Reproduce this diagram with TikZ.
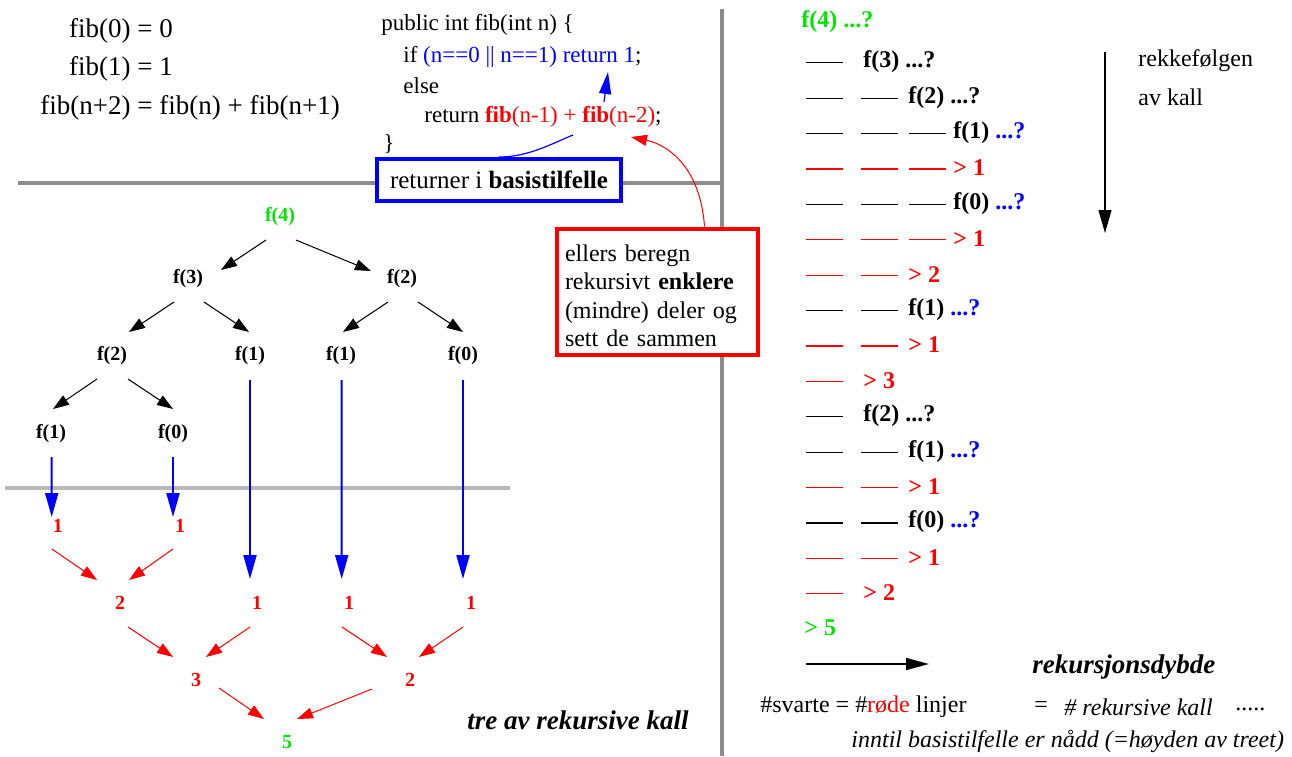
\documentclass[tikz,border=0pt]{standalone}
\usepackage{fontspec}
\setmainfont{Liberation Serif}[
 BoldFont=Liberation Serif Bold,
 ItalicFont=Liberation Serif Italic,
 BoldItalicFont=Liberation Serif Bold Italic]
\usetikzlibrary{arrows.meta,positioning}
\definecolor{callgreen}{RGB}{0,230,0}
\definecolor{retred}{RGB}{255,0,0}
\definecolor{baseblue}{RGB}{0,0,255}
\definecolor{rulegray}{RGB}{140,140,140}
\definecolor{levelgray}{RGB}{185,185,185}
\tikzset{
 treelabel/.style={font=\fontsize{10}{12}\selectfont\bfseries, inner sep=0pt},
 retnum/.style={treelabel, text=retred},
 calllabel/.style={font=\fontsize{12}{14}\selectfont\bfseries, inner sep=0pt, anchor=west},
 plaintext/.style={font=\fontsize{12}{14}\selectfont, inner sep=0pt, anchor=west},
 codeline/.style={font=\fontsize{11.5}{14}\selectfont, inner sep=0pt, anchor=base west},
 callarrow/.style={-{Triangle[length=8pt,width=5.5pt]}, line width=0.5pt},
 retarrow/.style={-{Triangle[length=8pt,width=5.5pt]}, line width=0.5pt, draw=retred},
 basearrow/.style={-{Triangle[length=12pt,width=6.5pt]}, line width=1pt, draw=baseblue},
 calldash/.style={line width=0.6pt},
 infobox/.style={rectangle, fill=white, line width=2pt},
 divider/.style={line width=2.3pt, draw=rulegray}
}

\begin{document}
\begin{tikzpicture}[x=0.5pt, y=-0.5pt]
 \useasboundingbox (0,0) rectangle (1292,756);

 % dividers
 \draw[divider] (722,9) -- (722,756);
 \draw[divider] (18,183) -- (722,183);
 \draw[line width=1.8pt, draw=levelgray] (5,488) -- (510,488);

 % definition and code
 \node[anchor=north west, inner sep=0pt, font=\fontsize{13.5}{19.25}\selectfont] (defs) at (40,10)
 {\begin{tabular}{@{}r@{\ =\ }l@{}} fib(0) & 0\\ fib(1) & 1\\ fib(n+2) & fib(n) + fib(n+1)\end{tabular}};
 \node[codeline] (code1) at (381,30) {public int fib(int n) \{};
 \node[codeline] (code2) at (403,62) {if \textcolor{baseblue}{(n==0 || n==1) return 1};};
 \node[codeline] (code3) at (403,93) {else};
 \node[codeline] (code4) at (424,122) {return \textcolor{retred}{\textbf{fib}(n-1) + \textbf{fib}(n-2)};};
 \node[codeline] (code5) at (383,150) {\}};

 \node[infobox, draw=baseblue, minimum width=122pt, minimum height=21pt, font=\fontsize{12.5}{15}\selectfont] (retbox) at (499,180) {returner i \textbf{basistilfelle}};
 \node[infobox, draw=retred, text width=92.5pt, inner xsep=4pt, minimum height=63pt, align=left, font=\fontsize{12}{14.25}\selectfont] (recbox) at (657.5,291.5)
 {\rule{0pt}{12.5pt}ellers beregn\\ rekursivt \textbf{enklere}\\ (mindre) deler og\\ sett de sammen};

 \coordinate (hideA) at (573,135);
 \coordinate (hideB) at (604,102);
 \coordinate (basetip) at (608,72);
 \coordinate (rectip) at (631,137);
 \draw[baseblue, line width=0.6pt] (retbox.north) .. controls +(30,0) and +(-20,8) .. (hideA);
 \draw[basearrow, line width=0.6pt, -{Triangle[length=11pt,width=6pt]}] (hideB) -- (basetip);
 \draw[retarrow] ([xshift=23.5pt]recbox.north) .. controls +(-4,-58) and +(38,8) .. (rectip);

 % tree of calls
 \node[treelabel, text=callgreen] (f4) at (280,217) {f(4)};
 \node[treelabel] (f3) at (188,279) {f(3)};
 \node[treelabel] (f2r) at (402,279) {f(2)};
 \node[treelabel] (f2l) at (112,356) {f(2)};
 \node[treelabel] (f1a) at (250,356) {f(1)};
 \node[treelabel] (f1b) at (341,356) {f(1)};
 \node[treelabel] (f0a) at (463,356) {f(0)};
 \node[treelabel] (f1c) at (51,434) {f(1)};
 \node[treelabel] (f0b) at (173,434) {f(0)};

 \draw[callarrow] ([shift={(-14,23)}]f4.center) -- ([shift={(33,-9)}]f3.center);
 \draw[callarrow] ([shift={(16,23)}]f4.center) -- ([shift={(-31,-8)}]f2r.center);
 \draw[callarrow] ([shift={(-14,23)}]f3.center) -- ([shift={(17,-24)}]f2l.center);
 \draw[callarrow] ([shift={(16,23)}]f3.center) -- ([shift={(-1,-24)}]f1a.center);
 \draw[callarrow] ([shift={(-14,23)}]f2r.center) -- ([shift={(2,-24)}]f1b.center);
 \draw[callarrow] ([shift={(16,23)}]f2r.center) -- ([shift={(0,-24)}]f0a.center);
 \draw[callarrow] ([shift={(-15,23)}]f2l.center) -- ([shift={(2,-25)}]f1c.center);
 \draw[callarrow] ([shift={(16,23)}]f2l.center) -- ([shift={(0,-25)}]f0b.center);

 % returned values
 \node[retnum] (r1a) at (58,526) {1};
 \node[retnum] (r1b) at (180,526) {1};
 \node[retnum] (r2a) at (120,603) {2};
 \node[retnum] (r1c) at (257,603) {1};
 \node[retnum] (r1d) at (349,603) {1};
 \node[retnum] (r1e) at (471,603) {1};
 \node[retnum] (r3) at (196,680) {3};
 \node[retnum] (r2b) at (410,680) {2};
 \node[treelabel, text=callgreen] (r5) at (287,742) {5};

 \draw[basearrow] ([shift={(0.7,23)}]f1c.center) -- ([shift={(-6.3,-9)}]r1a.center);
 \draw[basearrow] ([shift={(0,23)}]f0b.center) -- ([shift={(-7,-9)}]r1b.center);
 \draw[basearrow] ([shift={(0,24)}]f1a.center) -- ([shift={(-7,-24)}]r1c.center);
 \draw[basearrow] ([shift={(0.7,24)}]f1b.center) -- ([shift={(-7.3,-24)}]r1d.center);
 \draw[basearrow] ([shift={(0,24)}]f0a.center) -- ([shift={(-8,-24)}]r1e.center);

 \draw[retarrow] ([shift={(-6,23)}]r1a.center) -- ([shift={(-23,-23)}]r2a.center);
 \draw[retarrow] ([shift={(-7,23)}]r1b.center) -- ([shift={(9,-23)}]r2a.center);
 \draw[retarrow] ([shift={(8,24)}]r2a.center) -- ([shift={(-23,-23)}]r3.center);
 \draw[retarrow] ([shift={(-7,24)}]r1c.center) -- ([shift={(10,-23)}]r3.center);
 \draw[retarrow] ([shift={(-7,24)}]r1d.center) -- ([shift={(-23,-23)}]r2b.center);
 \draw[retarrow] ([shift={(-8,24)}]r1e.center) -- ([shift={(9,-23)}]r2b.center);
 \draw[retarrow] ([shift={(23,8)}]r3.center) -- ([shift={(-23,-23)}]r5.center);
 \draw[retarrow] ([shift={(-38,9)}]r2b.center) -- ([shift={(10,-23)}]r5.center);

 \node[anchor=west, inner sep=0pt, font=\fontsize{13.5}{16}\selectfont\bfseries\itshape] (treetitle) at (467,720) {tre av rekursive kall};

 % order of calls
 \node[calllabel, text=callgreen] (row0) at (801,22) {f(4) ...?};
 \foreach \k/\dep/\col/\txt in {
 1/1/black/{f(3) ...?},
 2/2/black/{f(2) ...?},
 3/3/black/{f(1) \textcolor{baseblue}{...?}},
 4/3/retred/{> 1},
 5/3/black/{f(0) \textcolor{baseblue}{...?}},
 6/3/retred/{> 1},
 7/2/retred/{> 2},
 8/2/black/{f(1) \textcolor{baseblue}{...?}},
 9/2/retred/{> 1},
 10/1/retred/{> 3},
 11/1/black/{f(2) ...?},
 12/2/black/{f(1) \textcolor{baseblue}{...?}},
 13/2/retred/{> 1},
 14/2/black/{f(0) \textcolor{baseblue}{...?}},
 15/2/retred/{> 1},
 16/1/retred/{> 2}}{
 \pgfmathsetmacro\rowy{26.3+35.4*\k}
 \node[calllabel, text=\col] (row\k) at (818+45*\dep,\rowy) {\txt};
 \foreach \j/\xa in {1/806,2/861,3/909}{
 \ifnum\j>\dep\relax\else
 \draw[calldash, draw=\col] (\xa,\rowy+1) -- ++(37,0);
 \fi
 }
 }
 \node[calllabel, text=callgreen] (row17) at (804,628) {> 5};

 \coordinate (ordtop) at (1105,52);
 \coordinate (ordbot) at (1105,233);
 \draw[-{Triangle[length=11.5pt,width=6.5pt]}, line width=0.6pt] (ordtop) -- (ordbot);
 \node[plaintext] (ordtext) at (1138,61) {rekkefølgen};
 \node[plaintext] (ordtext2) at (1138,97) {av kall};

 % depth of recursion
 \coordinate (depthstart) at (806,664);
 \coordinate (depthend) at (929,664);
 \draw[-{Triangle[length=11.5pt,width=6pt]}, line width=0.8pt] (depthstart) -- (depthend);
 \node[anchor=west, inner sep=0pt, font=\fontsize{13.5}{16}\selectfont\bfseries\itshape] (depthtitle) at (1032,667) {rekursjonsdybde};
 \node[plaintext] (countlines) at (760,707) {\#svarte = \#\textcolor{retred}{røde} linjer};
 \node[plaintext] (eqsign) at (1034,707) {=};
 \node[plaintext, font=\fontsize{12}{14}\selectfont\itshape] (countcalls) at (1064,707) {\# rekursive kall};
 \node[plaintext] (moredots) at (1235,709) {.....};
 \node[plaintext, font=\fontsize{12}{14}\selectfont\itshape] (untilbase) at (851,741) {inntil basistilfelle er nådd (=høyden av treet)};
\end{tikzpicture}
\end{document}
